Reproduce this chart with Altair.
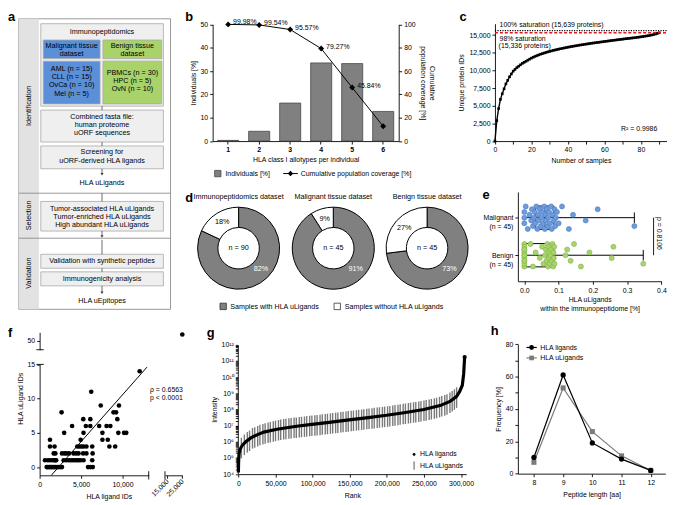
import math
import altair as alt
import pandas as pd

# ============================ data ============================
A_SECTIONS = ["Identification", "Selection", "Validation"]
A_HEADER = "Immunopeptidomics"
A_MALIGNANT_HEAD = ["Malignant tissue", "dataset"]
A_BENIGN_HEAD = ["Benign tissue", "dataset"]
A_MALIGNANT = ["AML (n = 15)", "CLL (n = 15)", "OvCa (n = 10)", "Mel (n = 5)"]
A_BENIGN = ["PBMCs (n = 30)", "HPC (n = 5)", "OvN (n = 10)"]
A_FASTA = ["Combined fasta file:", "human proteome", "uORF sequences"]
A_SCREEN = ["Screening for", "uORF-derived HLA ligands"]
A_ULIGANDS = "HLA uLigands"
A_SELECTION = ["Tumor-associated HLA uLigands", "Tumor-enriched HLA uLigands",
               "High abundant HLA uLigands"]
A_VALIDATION = ["Validation with synthetic peptides", "Immunogenicity analysis"]
A_EPITOPES = "HLA uEpitopes"

B_ALLOTYPES = ["1", "2", "3", "4", "5", "6"]
B_INDIVIDUALS = [0.3, 4.2, 16.3, 33.5, 33.2, 12.7]
B_COVERAGE = [99.98, 99.54, 95.57, 79.27, 45.84, 12.7]
B_COVERAGE_LABELS = ["99.98%", "99.54%", "95.57%", "79.27%", "45.84%", ""]
B_LEGEND = ["Individuals [%]", "Cumulative population coverage [%]"]

C_SAMPLES = list(range(0, 91))
C_PROTEINS = [0, 2900, 4600, 5900, 6700, 7400, 8100, 8600, 9100, 9500,
              9900, 10150, 10400, 10600, 10800, 11000, 11150, 11300, 11450, 11600,
              11750, 11870, 11990, 12100, 12200, 12300, 12390, 12470, 12550, 12630,
              12700, 12770, 12840, 12900, 12960, 13020, 13080, 13130, 13190, 13240,
              13290, 13340, 13390, 13430, 13480, 13520, 13570, 13610, 13650, 13690,
              13730, 13770, 13810, 13850, 13890, 13920, 13960, 13990, 14030, 14060,
              14100, 14130, 14170, 14200, 14240, 14270, 14300, 14340, 14370, 14400,
              14430, 14470, 14500, 14530, 14560, 14590, 14620, 14650, 14690, 14720,
              14760, 14800, 14840, 14880, 14920, 14970, 15030, 15090, 15160, 15240,
              15336]
C_SATURATION = [15639, 15336]
C_SAT_TEXT = ["100% saturation (15,639 proteins)", "98% saturation", "(15,336 proteins)"]
C_R2 = "R\u00b2 = 0.9986"

D_DATASETS = ["Immunopeptidomics dataset", "Malignant tissue dataset", "Benign tissue dataset"]
D_WITH = [82, 91, 73]
D_WITHOUT = [18, 9, 27]
D_N = [90, 45, 45]
D_LEGEND = ["Samples with HLA uLigands", "Samples without HLA uLigands"]

E_GROUPS = ["Malignant", "Benign"]
E_N = [45, 45]
E_MALIGNANT = [0.0, 0.0, 0.0, 0.004, 0.01, 0.015, 0.02, 0.022, 0.025, 0.028,
               0.03, 0.032, 0.035, 0.038, 0.04, 0.042, 0.045, 0.048, 0.05, 0.052,
               0.055, 0.058, 0.06, 0.061, 0.063, 0.065, 0.068, 0.07, 0.072, 0.075,
               0.078, 0.08, 0.083, 0.086, 0.088, 0.09, 0.092, 0.095, 0.1, 0.11,
               0.13, 0.142, 0.179, 0.214, 0.321]
E_BENIGN = [0.0] * 12 + [0.018, 0.025, 0.033, 0.045, 0.052, 0.056, 0.06, 0.063, 0.065, 0.067,
                         0.069, 0.07, 0.071, 0.072, 0.074, 0.076, 0.078, 0.08, 0.082, 0.084,
                         0.085, 0.086, 0.087, 0.088,
                         0.12, 0.125, 0.135, 0.145, 0.165, 0.19, 0.255, 0.26, 0.347]
E_P = "p = 0.8106"

F_ROWS = {
    0: [850, 1000, 1150, 1300, 1450, 1600, 1750, 1900, 2100, 2300, 2500, 2700, 5850, 6150, 6420],
    1: [650, 1000, 1250, 1550, 1800, 1900, 2000, 2900, 3200, 3500, 3750, 4000, 4250, 4500,
        4700, 4950, 5300, 6350],
    2: [1700, 1900, 2700, 3000, 3250, 3550, 4100, 4400, 4700, 5250, 5650, 6400],
    3: [1250, 1800, 4550, 4800, 5050, 5300, 5650, 6350, 8420, 9120],
    4: [1250, 4950, 7580, 8230],
    5: [2960, 5300, 7580, 9500, 10190, 10460],
    6: [3920, 5580, 6120, 7190, 8080, 8540],
    7: [5270, 6120, 9380],
    8: [2650, 8920, 9230],
    9: [7380, 9580],
    11: [6230],
    14: [12080],
}
F_LIGAND_IDS = [x for k in F_ROWS for x in F_ROWS[k]]
F_ULIGAND_IDS = [k for k in F_ROWS for _ in F_ROWS[k]]
F_OUTLIER = [25000, 53]
F_FIT_X = [1420, 12960]
F_FIT_Y = [-1.19, 14.6]
F_STATS = ["\u03c1 = 0.6563", "p < 0.0001"]

G_RANK = [0, 200, 500, 1000, 2000, 3500, 6000, 10000, 16700, 25000, 34300, 51900, 78300,
          99000, 122300, 149000, 175000, 199700, 223000, 249800, 271800, 285000, 293800,
          298000, 301700, 303500, 304800]
G_LOG_INTENSITY = [4.1, 4.6, 5.0, 5.3, 5.5, 5.65, 5.82, 6.0, 6.24, 6.43, 6.6, 6.78, 6.96,
                   7.08, 7.2, 7.36, 7.5, 7.64, 7.8, 8.0, 8.24, 8.5, 8.8, 9.1, 9.5, 10.2, 11.24]
G_U_RANK = [4000, 8000, 12000, 15000, 19000, 22000, 26000, 29000, 33000, 36000,
            40000, 43000, 47000, 50000, 54000, 57000, 61000, 64000, 68000, 71000,
            75000, 78000, 82000, 85000, 89000, 92000, 96000, 99000, 103000, 106000,
            110000, 113000, 117000, 120000, 124000, 127000, 131000, 134000, 138000, 141000,
            145000, 148000, 152000, 155000, 159000, 162000, 166000, 169000, 173000, 176000,
            180000, 183000, 187000, 190000, 194000, 197000, 201000, 204000, 208000, 211000,
            215000, 218000, 222000, 225000, 229000, 232000, 236000, 239000, 243000, 246000,
            250000, 253000, 257000, 260000, 264000, 267000, 271000, 274000, 278000, 281000,
            285000, 288000, 291000, 294000]
G_U_LOG_INTENSITY = [5.7, 5.9, 6.05, 6.15, 6.3, 6.35, 6.43, 6.5, 6.55, 6.6,
                     6.65, 6.68, 6.72, 6.76, 6.8, 6.83, 6.86, 6.88, 6.91, 6.93,
                     6.95, 6.96, 6.98, 7.0, 7.02, 7.04, 7.06, 7.08, 7.1, 7.11,
                     7.13, 7.15, 7.17, 7.19, 7.21, 7.23, 7.25, 7.27, 7.29, 7.31,
                     7.33, 7.35, 7.37, 7.39, 7.41, 7.43, 7.45, 7.47, 7.49, 7.51,
                     7.53, 7.55, 7.57, 7.59, 7.61, 7.63, 7.65, 7.67, 7.7, 7.72,
                     7.75, 7.77, 7.8, 7.82, 7.85, 7.87, 7.9, 7.92, 7.95, 7.97,
                     8.0, 8.03, 8.07, 8.1, 8.14, 8.18, 8.23, 8.28, 8.34, 8.4,
                     8.5, 8.6, 8.7, 8.82]
G_LEGEND = ["HLA ligands", "HLA uLigands"]

H_LENGTH = [8, 9, 10, 11, 12]
H_LIGANDS = [10, 61, 19, 9, 2]
H_ULIGANDS = [7, 53, 26, 11, 2]
H_LEGEND = ["HLA ligands", "HLA uLigands"]

PANEL_LETTERS = ["a", "b", "c", "d", "e", "f", "g", "h"]

# ============================ layout helpers ============================
W, H = 667, 497
SX, SY = 667 / 673.0, 497 / 502.0
FONT = "Liberation Sans"
FS = 7
GRAY = "#808080"
NUM = ",.0f"


def X(r):
    return (r - 2) * SX


def Y(r):
    return (r - 2) * SY


def text_layer(xs, ys, labels, size=FS, align="center", baseline="middle",
               color="black", weight="normal", angle=0):
    d = pd.DataFrame({"x": [X(v) for v in xs], "y": [Y(v) for v in ys], "t": labels})
    return alt.Chart(d).mark_text(font=FONT, fontSize=size, align=align, baseline=baseline,
                                  color=color, fontWeight=weight, angle=angle).encode(
        x=alt.X("x:Q", scale=None, axis=None),
        y=alt.Y("y:Q", scale=None, axis=None),
        text="t:N")


def rect_layer(rows, fill, stroke="#9a9a9a", sw=0.8):
    d = pd.DataFrame(rows, columns=["x1", "x2", "y1", "y2"])
    d["x1"] = d["x1"].map(X)
    d["x2"] = d["x2"].map(X)
    d["y1"] = d["y1"].map(Y)
    d["y2"] = d["y2"].map(Y)
    return alt.Chart(d).mark_rect(fill=fill, stroke=stroke, strokeWidth=sw).encode(
        x=alt.X("x1:Q", scale=None, axis=None), x2="x2:Q",
        y=alt.Y("y1:Q", scale=None, axis=None), y2="y2:Q")


def rule_layer(rows, color="black", sw=0.8, dash=None):
    d = pd.DataFrame(rows, columns=["x1", "y1", "x2", "y2"])
    d["x1"] = d["x1"].map(X)
    d["x2"] = d["x2"].map(X)
    d["y1"] = d["y1"].map(Y)
    d["y2"] = d["y2"].map(Y)
    kw = dict(color=color, strokeWidth=sw)
    if dash:
        kw["strokeDash"] = dash
    return alt.Chart(d).mark_rule(**kw).encode(
        x=alt.X("x1:Q", scale=None, axis=None), x2="x2:Q",
        y=alt.Y("y1:Q", scale=None, axis=None), y2="y2:Q")


def point_layer(xs, ys, shape, size, color, stroke=None, sw=0.8):
    d = pd.DataFrame({"x": [X(v) for v in xs], "y": [Y(v) for v in ys]})
    kw = dict(shape=shape, size=size, filled=True, color=color, opacity=1)
    if stroke:
        kw.update(stroke=stroke, strokeWidth=sw)
    return alt.Chart(d).mark_point(**kw).encode(
        x=alt.X("x:Q", scale=None, axis=None),
        y=alt.Y("y:Q", scale=None, axis=None))


layers = []

# ============================ panel a (workflow) ============================
layers.append(rect_layer([(13, 168, 10, 307)], "white", "#8c8c8c", 0.9))
layers.append(rect_layer([(13, 33.5, 10, 307)], "#e2e2e2", "#e2e2e2", 0.1))
layers.append(rule_layer([(13, 188.3, 168, 188.3), (13, 234.3, 168, 234.3)], "#8c8c8c", 0.9))
layers.append(rect_layer([(35.5, 160.7, 15, 99.3), (35.5, 160.7, 103.3, 136),
                          (35.5, 160.7, 140, 163.3), (35.5, 160.7, 196.7, 227),
                          (35.5, 160.7, 250.7, 265), (35.5, 160.7, 268.7, 283)],
                         "#efefef", "#a8a8a8", 0.8))
layers.append(rect_layer([(38, 96, 31.7, 50.7), (38, 96, 53.3, 97)], "#5b8fd8", "#a8a8a8", 0.8))
layers.append(rect_layer([(99, 159, 31.7, 50.7), (99, 159, 53.3, 97)], "#a9d26b", "#a8a8a8", 0.8))
layers.append(rule_layer([(98, 99.3, 98, 103.3), (98, 136, 98, 140), (98, 163.3, 98, 168),
                          (98, 188.3, 98, 196.7), (98, 227, 98, 231.5),
                          (98, 236, 98, 250.7), (98, 265, 98, 268.7), (98, 283, 98, 289)],
                         "#444444", 0.8))
layers.append(point_layer([98, 98, 98], [169, 232.5, 290], "triangle-down", 9, "#333333"))
layers.append(text_layer([23.5, 23.5, 23.5], [99, 211, 270], A_SECTIONS, size=7.3, angle=270))
a_x, a_y, a_t = [98], [24], [A_HEADER]
for i, t in enumerate(A_MALIGNANT_HEAD):
    a_x.append(67); a_y.append(37.7 + 8.3 * i); a_t.append(t)
for i, t in enumerate(A_BENIGN_HEAD):
    a_x.append(129); a_y.append(37.7 + 8.3 * i); a_t.append(t)
for i, t in enumerate(A_MALIGNANT):
    a_x.append(67); a_y.append(61 + 8.55 * i); a_t.append(t)
for i, t in enumerate(A_BENIGN):
    a_x.append(129); a_y.append(65 + 8.5 * i); a_t.append(t)
for i, t in enumerate(A_FASTA):
    a_x.append(98); a_y.append(110 + 8.5 * i); a_t.append(t)
for i, t in enumerate(A_SCREEN):
    a_x.append(98); a_y.append(146.7 + 8.6 * i); a_t.append(t)
a_x.append(98); a_y.append(178.3); a_t.append(A_ULIGANDS)
for i, t in enumerate(A_SELECTION):
    a_x.append(98); a_y.append(204.7 + 8.3 * i); a_t.append(t)
a_x += [98, 98, 98]; a_y += [257.7, 276, 298.3]; a_t += A_VALIDATION + [A_EPITOPES]
layers.append(text_layer(a_x, a_y, a_t, size=7.3))

# ============================ panel b ============================
bdf = pd.DataFrame({"k": B_ALLOTYPES, "ind": B_INDIVIDUALS, "cov": B_COVERAGE,
                    "lab": B_COVERAGE_LABELS})
b_xscale = alt.Scale(domain=B_ALLOTYPES, range=[X(211), X(401)], paddingInner=0.32,
                     paddingOuter=0.16)
b_yl = alt.Scale(domain=[0, 50], range=[Y(135), Y(15.7)], nice=False, zero=False)
b_yr = alt.Scale(domain=[0, 100], range=[Y(135), Y(15.7)], nice=False, zero=False)
layers.append(alt.Chart(bdf).mark_bar(color=GRAY, stroke="#3a3a3a", strokeWidth=0.7).encode(
    x=alt.X("k:N", sort=B_ALLOTYPES, scale=b_xscale,
            axis=alt.Axis(orient="bottom", offset=Y(135) - H, labelAngle=0,
                          labelFontWeight="bold", title="HLA class I allotypes per individual",
                          titlePadding=3)),
    y=alt.Y("ind:Q", scale=b_yl,
            axis=alt.Axis(orient="left", offset=-X(211), values=[0, 10, 20, 30, 40, 50],
                          title="Individuals [%]"))))
b_line_x = alt.X("k:N", sort=B_ALLOTYPES, scale=b_xscale, axis=None)
layers.append(alt.Chart(bdf).mark_line(color="black", strokeWidth=1).encode(
    x=b_line_x,
    y=alt.Y("cov:Q", scale=b_yr,
            axis=alt.Axis(orient="right", offset=X(401) - W, values=[0, 20, 40, 60, 80, 100],
                          title=["Cumulative", "population coverage [%]"], titleAngle=90))))
layers.append(alt.Chart(bdf).mark_point(shape="diamond", filled=True, size=36, color="black",
                                        opacity=1).encode(
    x=b_line_x, y=alt.Y("cov:Q", scale=b_yr, axis=None)))
layers.append(alt.Chart(bdf).mark_text(font=FONT, fontSize=FS, align="left", dx=5, dy=-2).encode(
    x=b_line_x, y=alt.Y("cov:Q", scale=b_yr, axis=None), text="lab:N"))
layers.append(rect_layer([(213, 219.5, 165, 171.5)], GRAY, "#3a3a3a", 0.7))
layers.append(rule_layer([(283, 168.2, 298, 168.2)], "black", 1))
layers.append(point_layer([290.5], [168.2], "diamond", 30, "black"))
layers.append(text_layer([224, 301], [168.5, 168.5], B_LEGEND, align="left"))

# ============================ panel c ============================
cdf = pd.DataFrame({"n": C_SAMPLES, "p": C_PROTEINS})
c_x = alt.Scale(domain=[0, 94.3], range=[X(499.3), X(675)], nice=False, zero=False)
c_y = alt.Scale(domain=[0, 16620], range=[Y(135), Y(15)], nice=False, zero=False)
layers.append(alt.Chart(cdf).mark_line(color="black", strokeWidth=1.4).encode(
    x=alt.X("n:Q", scale=c_x,
            axis=alt.Axis(orient="bottom", offset=Y(135) - H, values=list(range(0, 100, 10)),
                          format=".0f",
                          labelExpr="datum.value % 20 == 0 ? datum.label : ''",
                          title="Number of samples")),
    y=alt.Y("p:Q", scale=c_y,
            axis=alt.Axis(orient="left", offset=-X(499.3), values=list(range(0, 15001, 2500)),
                          format=NUM, title="Unique protein IDs"))))
layers.append(alt.Chart(cdf).mark_square(size=7, color="black", opacity=1).encode(
    x=alt.X("n:Q", scale=c_x, axis=None), y=alt.Y("p:Q", scale=c_y, axis=None)))
sat = pd.DataFrame({"v": C_SATURATION})
layers.append(alt.Chart(sat.iloc[[1]]).mark_rule(color="#e4161d", strokeWidth=1.5,
                                                 strokeDash=[3, 2]).encode(
    y=alt.Y("v:Q", scale=c_y, axis=None), x=alt.value(X(499.3)), x2=alt.value(X(675))))
layers.append(alt.Chart(sat.iloc[[0]]).mark_rule(color="black", strokeWidth=1.3,
                                                 strokeDash=[1.2, 1.3]).encode(
    y=alt.Y("v:Q", scale=c_y, axis=None), x=alt.value(X(499.3)), x2=alt.value(X(675))))
layers.append(text_layer([504, 504, 503], [16.5, 31, 37.5], C_SAT_TEXT, align="left"))
layers.append(text_layer([628], [122.7], [C_R2], align="left"))

# ============================ panel d ============================
D_CX = [237.5, 334.2, 430]
D_CY = 244.5
for i in range(3):
    cxp, cyp = X(D_CX[i]), Y(D_CY)
    ddf = pd.DataFrame({"cat": D_LEGEND, "v": [D_WITH[i], D_WITHOUT[i]], "o": [0, 1],
                        "fill": [GRAY, "#ffffff"]})
    layers.append(alt.Chart(ddf).mark_arc(outerRadius=41.5, innerRadius=21, stroke="black",
                                          strokeWidth=1).encode(
        theta=alt.Theta("v:Q", stack=True, scale=alt.Scale(domain=[0, 100])),
        order=alt.Order("o:Q"),
        fill=alt.Fill("fill:N", scale=None),
        x=alt.value(cxp), y=alt.value(cyp)))
    ang_with = math.radians(133)
    ang_wo = (D_WITH[i] + D_WITHOUT[i] / 2) / 100 * 2 * math.pi
    layers.append(alt.Chart(pd.DataFrame({"t": [f"{D_WITH[i]}%"]})).mark_text(
        font=FONT, fontSize=7.3, color="white", radius=31, theta=ang_with).encode(
        x=alt.value(cxp), y=alt.value(cyp), text="t:N"))
    layers.append(alt.Chart(pd.DataFrame({"t": [f"{D_WITHOUT[i]}%"]})).mark_text(
        font=FONT, fontSize=7.3, color="black", radius=31, theta=ang_wo).encode(
        x=alt.value(cxp), y=alt.value(cyp), text="t:N"))
layers.append(text_layer(D_CX, [D_CY] * 3, [f"n = {n}" for n in D_N], size=7.3))
layers.append(text_layer(D_CX, [191.7] * 3, D_DATASETS, size=7.3))
layers.append(rect_layer([(218.5, 225, 300.7, 307.3)], GRAY, "#333333", 0.8))
layers.append(rect_layer([(335, 341.5, 300.7, 307.3)], "white", "#333333", 0.8))
layers.append(text_layer([229, 346], [304.2, 304.2], D_LEGEND, align="left", size=7.2))

# ============================ panel e ============================
E_COLORS = {0: ("#6d9bdc", "#4c7cc4"), 1: ("#a9d46c", "#7eb446")}
JIT = [0, -0.15, 0.15, -0.3, 0.3, -0.075, 0.075, -0.225, 0.225]
rows = []
for gi, vals in enumerate([E_MALIGNANT, E_BENIGN]):
    for j, v in enumerate(sorted(vals)):
        rows.append({"v": v, "gi": gi, "yj": gi + JIT[j % len(JIT)],
                     "fc": E_COLORS[gi][0], "sc": E_COLORS[gi][1]})
edf = pd.DataFrame(rows)
e_x = alt.Scale(domain=[-0.0189, 0.4], range=[X(522.7), X(669.3)], nice=False, zero=False)
e_y = alt.Scale(domain=[-0.685, 1.693], range=[Y(187), Y(278.3)], nice=False, zero=False)
e_lab = (f"datum.value == 0 ? ['{E_GROUPS[0]}', '(n = {E_N[0]})'] : "
         f"['{E_GROUPS[1]}', '(n = {E_N[1]})']")
stats = alt.Chart(edf).transform_aggregate(
    q1="q1(v)", med="median(v)", q3="q3(v)", lo="min(v)", hi="max(v)", groupby=["gi"]
).transform_calculate(
    b0="datum.gi - 0.31", b1="datum.gi + 0.31", c0="datum.gi - 0.14", c1="datum.gi + 0.14")
ex_ = lambda f: alt.X(f, scale=e_x, axis=None)
ey_ = lambda f: alt.Y(f, scale=e_y, axis=None)
layers.append(stats.mark_rule(color="black", strokeWidth=1).encode(
    x=ex_("lo:Q"), x2="hi:Q", y=ey_("gi:Q")))
layers.append(stats.mark_rect(fill="white", fillOpacity=0, stroke="black", strokeWidth=1).encode(
    x=ex_("q1:Q"), x2="q3:Q", y=ey_("b0:Q"), y2="b1:Q"))
layers.append(stats.mark_rule(color="black", strokeWidth=1).encode(
    x=ex_("med:Q"), y=ey_("b0:Q"), y2="b1:Q"))
layers.append(stats.mark_rule(color="black", strokeWidth=1).encode(
    x=ex_("hi:Q"), y=ey_("c0:Q"), y2="c1:Q"))
layers.append(alt.Chart(edf).mark_circle(size=26, strokeWidth=0.6, opacity=1).encode(
    x=alt.X("v:Q", scale=e_x,
            axis=alt.Axis(orient="bottom", offset=Y(278.3) - H, values=[0, 0.1, 0.2, 0.3, 0.4],
                          format=".1f", title=["HLA uLigands", "within the immunopeptidome [%]"],
                          titlePadding=3)),
    y=alt.Y("yj:Q", scale=e_y,
            axis=alt.Axis(orient="left", offset=-X(522.7), values=[0, 1], labelExpr=e_lab,
                          title=None)),
    fill=alt.Fill("fc:N", scale=None), stroke=alt.Stroke("sc:N", scale=None)))
layers.append(rule_layer([(661.3, 213.3, 661.3, 251.7)], "black", 0.9))
layers.append(text_layer([667.3], [229.5], [E_P], angle=90))

# ============================ panel f ============================
fdf = pd.DataFrame({"x": F_LIGAND_IDS, "y": F_ULIGAND_IDS})
f_x = alt.Scale(domain=[0, 13170], range=[X(34.3), X(145.7)], nice=False, zero=False)
f_y = alt.Scale(domain=[-1.2, 15], range=[Y(476.7), Y(363.3)], nice=False, zero=False)
f_x2 = alt.Scale(domain=[13500, 25000], range=[X(162.3), X(180)], nice=False, zero=False)
f_y2 = alt.Scale(domain=[46, 54], range=[Y(348.3), Y(330.5)], nice=False, zero=False)
layers.append(alt.Chart(fdf).mark_circle(size=22, color="black", opacity=1).encode(
    x=alt.X("x:Q", scale=f_x,
            axis=alt.Axis(orient="bottom", offset=Y(476.7) - H, values=[0, 5000, 10000],
                          format=NUM, title="HLA ligand IDs", titleX=X(105),
                          titlePadding=5)),
    y=alt.Y("y:Q", scale=f_y,
            axis=alt.Axis(orient="left", offset=-X(34.3), values=[0, 5, 10, 15],
                          title="HLA uLigand IDs", titleY=Y(398)))))
layers.append(alt.Chart(pd.DataFrame({"x": [F_OUTLIER[0]], "y": [F_OUTLIER[1]]})).mark_circle(
    size=22, color="black", opacity=1).encode(
    x=alt.X("x:Q", scale=f_x2,
            axis=alt.Axis(orient="bottom", offset=Y(476.7) - H, values=[15000, 25000],
                          format=NUM, labelAngle=315, labelAlign="right",
                          labelBaseline="middle", title=None)),
    y=alt.Y("y:Q", scale=f_y2,
            axis=alt.Axis(orient="left", offset=-X(34.3), values=[50], title=None))))
layers.append(alt.Chart(pd.DataFrame({"x": F_FIT_X, "y": F_FIT_Y})).mark_line(
    color="black", strokeWidth=1).encode(
    x=alt.X("x:Q", scale=f_x, axis=None), y=alt.Y("y:Q", scale=f_y, axis=None)))
layers.append(rule_layer([(31, 348.3, 38.5, 348.3), (31, 363.3, 38.5, 363.3),
                          (145.7, 472.5, 145.7, 481), (162.3, 472.5, 162.3, 481)],
                         "black", 0.9))
layers.append(text_layer([147, 147], [389, 397.3], F_STATS, align="left"))

# ============================ panel g ============================
SUP = {4: "\u2074", 5: "\u2075", 6: "\u2076", 7: "\u2077", 8: "\u2078", 9: "\u2079",
       10: "\u00b9\u2070", 11: "\u00b9\u00b9", 12: "\u00b9\u00b2"}
g_lab = "''"
for n in range(12, 3, -1):
    g_lab = f"datum.value == {n} ? '10{SUP[n]}' : " + g_lab
g_vals = [n + math.log10(k) for n in range(4, 12) for k in range(1, 10)] + [12]
g_x = alt.Scale(domain=[0, 307000], range=[X(237.3), X(470)], nice=False, zero=False)
g_y = alt.Scale(domain=[4, 12], range=[Y(475.5), Y(343.3)], nice=False, zero=False)
gu = pd.DataFrame({"r": G_U_RANK, "L": G_U_LOG_INTENSITY})
layers.append(alt.Chart(gu).transform_calculate(
    lo="datum.L - 0.72", hi="datum.L + 0.55").mark_rule(color="#7a7a7a", strokeWidth=1.4).encode(
    x=alt.X("r:Q", scale=g_x,
            axis=alt.Axis(orient="bottom", offset=Y(475.5) - H,
                          values=list(range(0, 300001, 50000)), format=NUM, title="Rank",
                          titlePadding=6)),
    y=alt.Y("lo:Q", scale=g_y,
            axis=alt.Axis(orient="left", offset=-X(236.7), values=g_vals, labelExpr=g_lab,
                          title="Intensity", tickSize=2.5)),
    y2="hi:Q"))
gdf = pd.DataFrame({"r": G_RANK, "L": G_LOG_INTENSITY})
layers.append(alt.Chart(gdf).mark_line(color="black", strokeWidth=3.2).encode(
    x=alt.X("r:Q", scale=g_x, axis=None), y=alt.Y("L:Q", scale=g_y, axis=None)))
layers.append(alt.Chart(gdf.tail(1)).mark_circle(size=18, color="black", opacity=1).encode(
    x=alt.X("r:Q", scale=g_x, axis=None), y=alt.Y("L:Q", scale=g_y, axis=None)))
layers.append(point_layer([416.7], [455.3], "circle", 8, "black"))
layers.append(rule_layer([(416.7, 462.5, 416.7, 471)], "#555555", 1))
layers.append(text_layer([422.7, 422.7], [455.3, 466.7], G_LEGEND, align="left"))

# ============================ panel h ============================
hdf = pd.DataFrame({"len": H_LENGTH, "lig": H_LIGANDS, "ulig": H_ULIGANDS})
h_x = alt.Scale(domain=[7.45, 12.5], range=[X(522.7), X(673.3)], nice=False, zero=False)
h_y = alt.Scale(domain=[0, 80], range=[Y(475), Y(342.7)], nice=False, zero=False)
layers.append(alt.Chart(hdf).mark_line(color="#7a7a7a", strokeWidth=1.2).encode(
    x=alt.X("len:Q", scale=h_x,
            axis=alt.Axis(orient="bottom", offset=Y(475) - H, values=H_LENGTH, format="d",
                          title="Peptide length [aa]", titlePadding=5)),
    y=alt.Y("ulig:Q", scale=h_y,
            axis=alt.Axis(orient="left", offset=-X(522.7), values=list(range(0, 81, 10)),
                          format="d",
                          labelExpr="datum.value % 20 == 0 ? datum.label : ''",
                          title="Frequency [%]"))))
layers.append(alt.Chart(hdf).mark_square(size=26, color="#7a7a7a", opacity=1).encode(
    x=alt.X("len:Q", scale=h_x, axis=None), y=alt.Y("ulig:Q", scale=h_y, axis=None)))
layers.append(alt.Chart(hdf).mark_line(color="black", strokeWidth=1.2).encode(
    x=alt.X("len:Q", scale=h_x, axis=None), y=alt.Y("lig:Q", scale=h_y, axis=None)))
layers.append(alt.Chart(hdf).mark_circle(size=28, color="black", opacity=1).encode(
    x=alt.X("len:Q", scale=h_x, axis=None), y=alt.Y("lig:Q", scale=h_y, axis=None)))
layers.append(rule_layer([(531.5, 346, 542, 346)], "black", 1.2))
layers.append(rule_layer([(531.5, 356.7, 542, 356.7)], "#7a7a7a", 1.2))
layers.append(point_layer([536.7], [346], "circle", 24, "black"))
layers.append(point_layer([536.7], [356.7], "square", 22, "#7a7a7a"))
layers.append(text_layer([545.5, 545.5], [346.3, 357], H_LEGEND, align="left"))

# ============================ panel letters ============================
layers.append(text_layer([2, 183, 463, 183, 486.5, 2, 205, 495],
                         [12, 12, 12, 197, 194, 335, 335, 333], PANEL_LETTERS,
                         size=13, align="left", baseline="alphabetic", weight="bold"))

chart = alt.layer(*layers).resolve_scale(
    x="independent", y="independent", theta="independent"
).properties(
    width=W, height=H, padding=0, autosize=alt.AutoSizeParams(type="none")
).configure_view(stroke=None).configure_axis(
    labelFont=FONT, titleFont=FONT, labelFontSize=FS, titleFontSize=FS,
    titleFontWeight="normal", labelColor="black", titleColor="black",
    domainColor="black", tickColor="black", domainWidth=0.9, tickWidth=0.9,
    tickSize=3, grid=False, labelPadding=2, titlePadding=4,
    labelOverlap=False, labelFlush=False)

chart.save("out.html", embed_options={"renderer": "svg", "actions": False})
